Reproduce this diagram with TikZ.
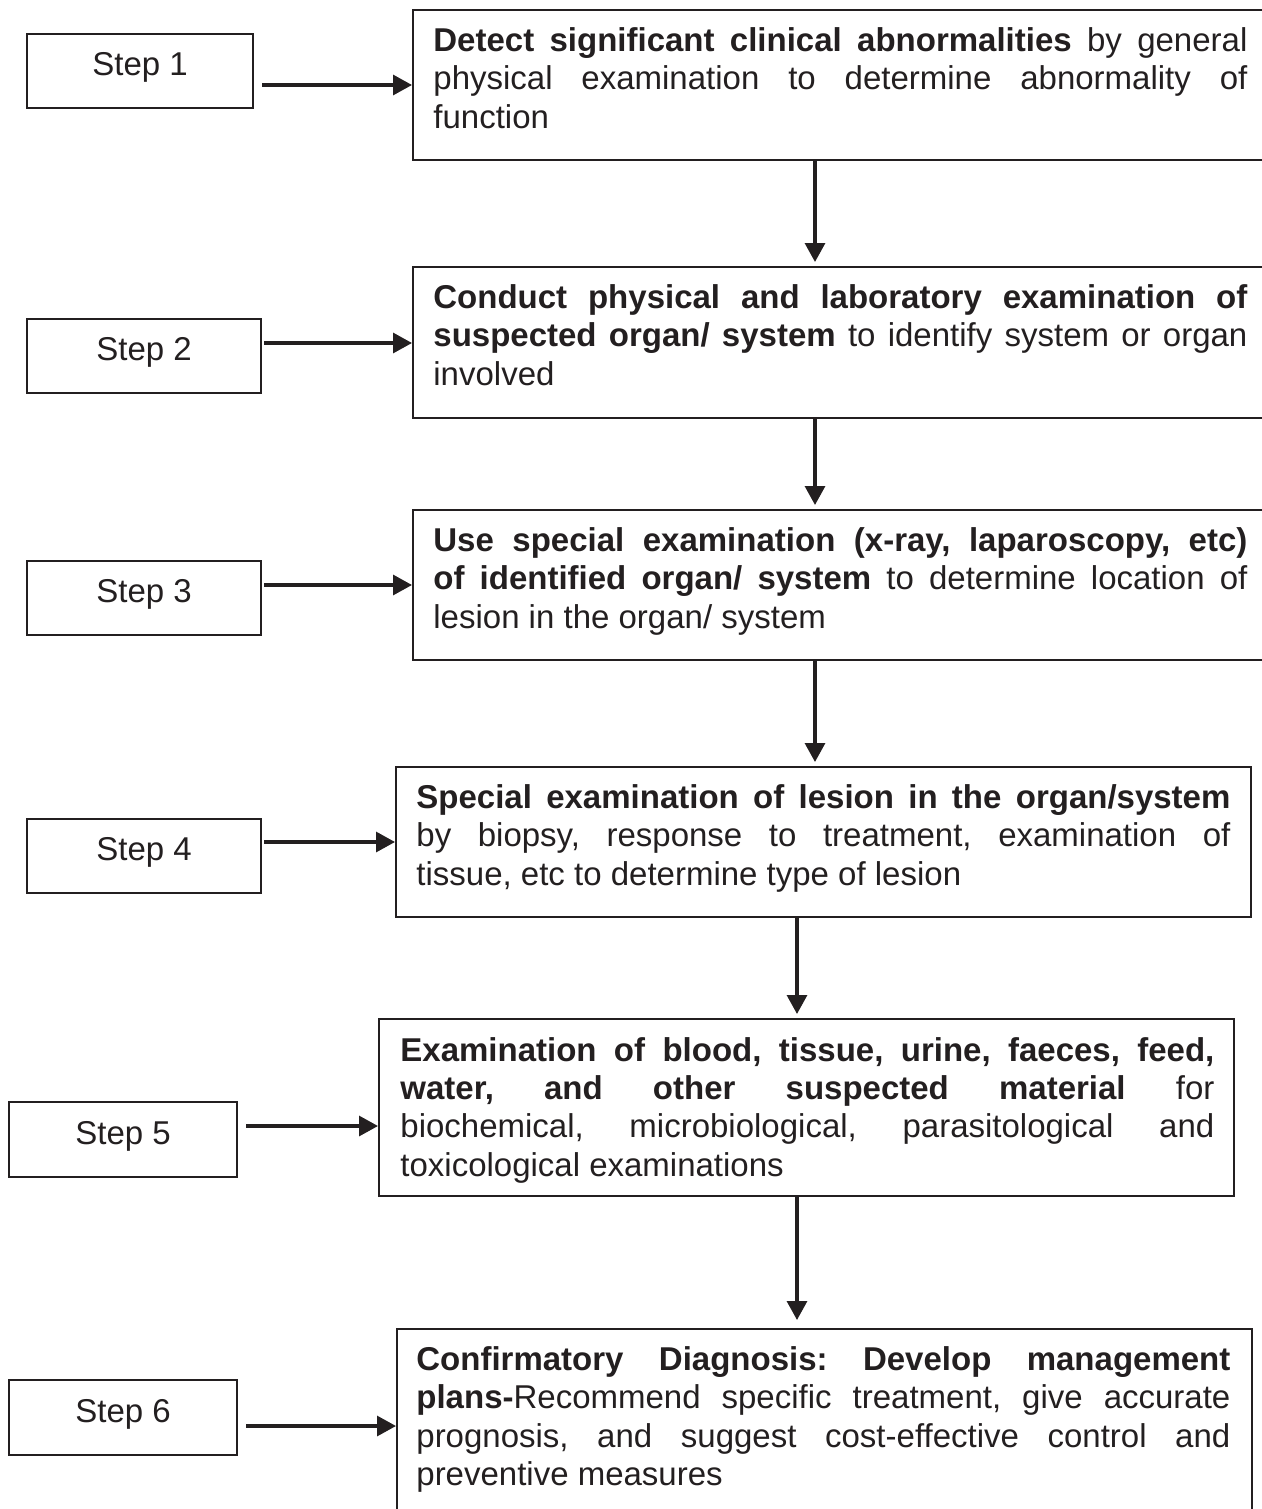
\documentclass[tikz,border=0pt]{standalone}
\usepackage{fontspec}
\setmainfont{Liberation Sans}
\usetikzlibrary{arrows.meta}
\definecolor{ink}{HTML}{231F20}
\begin{document}
\begin{tikzpicture}[x=0.5pt,y=-0.5pt,
  font=\fontsize{16.5}{19.15}\selectfont,
  bigbox/.style={draw=ink, line width=1.1pt, rectangle, minimum width=427.5pt, anchor=north west, inner sep=0pt},
  stepbox/.style={draw=ink, line width=1.1pt, rectangle, inner sep=0pt, anchor=north west, text height=12pt, text depth=7.5pt, text=ink},
  txt/.style={anchor=north west, inner sep=0pt, text width=407pt, align=justify, text=ink,
    execute at begin node={\frenchspacing\hyphenpenalty=10000\exhyphenpenalty=10000\tolerance=10000\hbadness=10000}},
  arr/.style={draw=ink, line width=1.6pt, -{Triangle[length=9.5pt,width=10pt]}},
]
\useasboundingbox (0,0) rectangle (1262,1509);

% step boxes
\node[stepbox, minimum width=113pt, minimum height=37pt] (s1) at (26,33) {Step 1};
\node[stepbox, minimum width=117pt, minimum height=37pt] (s2) at (26,318) {Step 2};
\node[stepbox, minimum width=117pt, minimum height=37pt] (s3) at (26,560) {Step 3};
\node[stepbox, minimum width=117pt, minimum height=37pt] (s4) at (26,818) {Step 4};
\node[stepbox, minimum width=114pt, minimum height=37.5pt] (s5) at (8,1101) {Step 5};
\node[stepbox, minimum width=114pt, minimum height=37.5pt] (s6) at (8,1379) {Step 6};

% big boxes
\node[bigbox, minimum height=75pt] (b1) at (412,9) {};
\node[bigbox, minimum height=75.5pt] (b2) at (412,266) {};
\node[bigbox, minimum height=75pt] (b3) at (412,509) {};
\node[bigbox, minimum height=75pt] (b4) at (395,766) {};
\node[bigbox, minimum height=88.5pt] (b5) at (378,1018) {};
\node[bigbox, minimum height=100pt] (b6) at (396,1328) {};

% texts
\node[txt] (t1) at ([shift={(21,15.2)}]b1.north west) {\strut\textbf{Detect significant clinical abnormalities} by general\linebreak physical examination to determine abnormality of\linebreak function};
\node[txt] (t2) at ([shift={(21,15.2)}]b2.north west) {\strut\textbf{Conduct physical and laboratory examination of}\linebreak \textbf{suspected organ/ system} to identify system or organ\linebreak involved};
\node[txt] (t3) at ([shift={(21,15.2)}]b3.north west) {\strut\textbf{Use special examination (x-ray, laparoscopy, etc)}\linebreak \textbf{of identified organ/ system} to determine location of\linebreak lesion in the organ/ system};
\node[txt] (t4) at ([shift={(21,15.2)}]b4.north west) {\strut\textbf{Special examination of lesion in the organ/system}\linebreak by biopsy, response to treatment, examination of\linebreak tissue, etc to determine type of lesion};
\node[txt] (t5) at ([shift={(22,16)}]b5.north west) {\strut\textbf{Examination of blood, tissue, urine, faeces, feed,}\linebreak \textbf{water, and other suspected material} for\linebreak biochemical, microbiological, parasitological and\linebreak toxicological examinations};
\node[txt] (t6) at ([shift={(20,15.2)}]b6.north west) {\strut\textbf{Confirmatory Diagnosis: Develop management}\linebreak \textbf{plans-}Recommend specific treatment, give accurate\linebreak prognosis, and suggest cost-effective control and\linebreak preventive measures};

% helper coordinates
\coordinate (y1) at (0,85);
\coordinate (y2) at (0,343);
\coordinate (y3) at (0,585);
\coordinate (y4) at (0,842);
\coordinate (y5) at (0,1126);
\coordinate (y6) at (0,1426);
\coordinate (xa) at (815,0);
\coordinate (xb) at (797,0);

% horizontal arrows
\draw[arr, shorten <=4pt] (s1.east |- y1) -- (b1.west |- y1);
\draw[arr, shorten <=1pt] (s2.east |- y2) -- (b2.west |- y2);
\draw[arr, shorten <=1pt] (s3.east |- y3) -- (b3.west |- y3);
\draw[arr, shorten <=1pt] (s4.east |- y4) -- (b4.west |- y4);
\draw[arr, shorten <=4pt] (s5.east |- y5) -- (b5.west |- y5);
\draw[arr, shorten <=4pt] (s6.east |- y6) -- (b6.west |- y6);

% vertical arrows
\draw[arr, shorten >=2pt] (b1.south -| xa) -- (b2.north -| xa);
\draw[arr, shorten >=2pt] (b2.south -| xa) -- (b3.north -| xa);
\draw[arr, shorten >=2pt] (b3.south -| xa) -- (b4.north -| xa);
\draw[arr, shorten >=2pt] (b4.south -| xb) -- (b5.north -| xb);
\draw[arr, shorten >=4pt] (b5.south -| xb) -- (b6.north -| xb);
\end{tikzpicture}
\end{document}
